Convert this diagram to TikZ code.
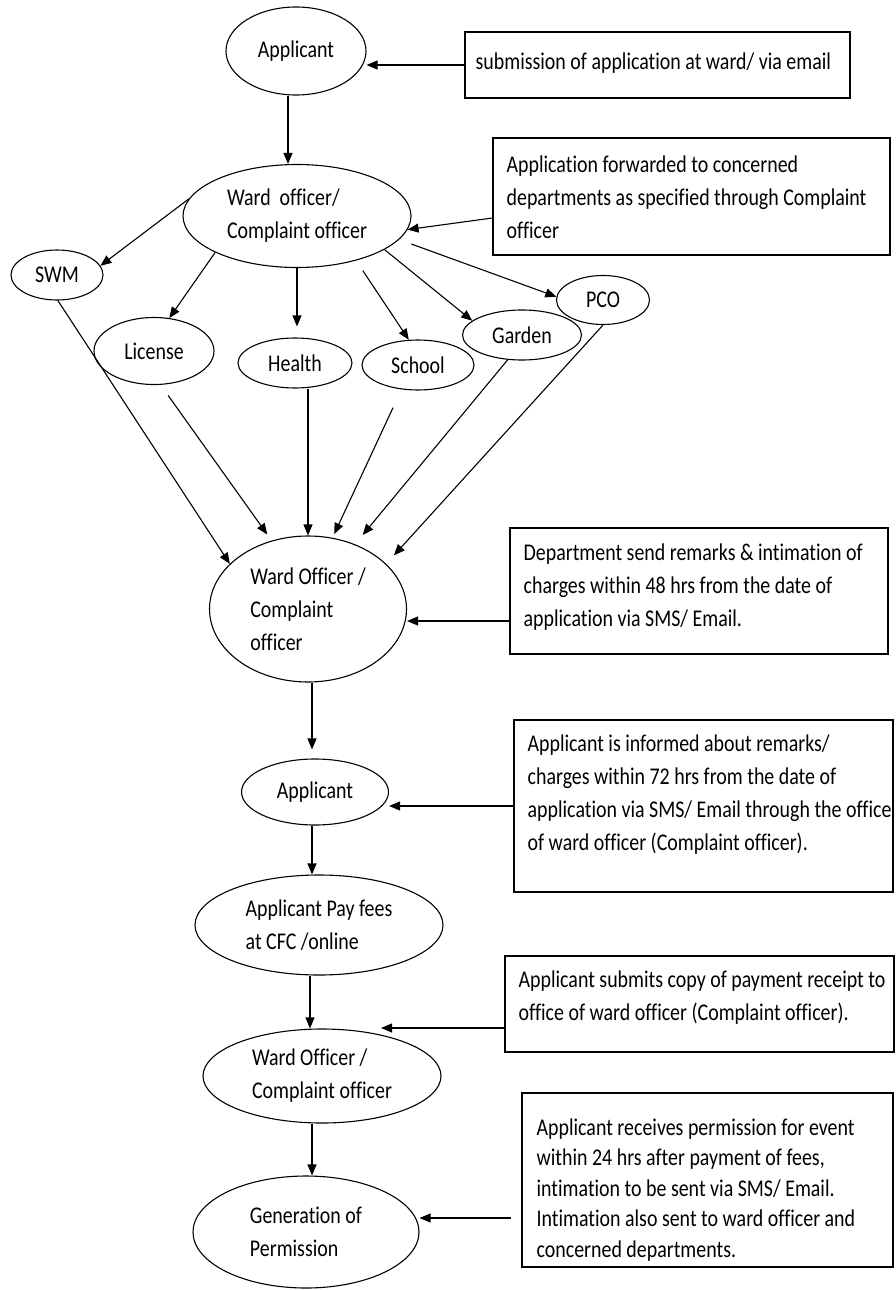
\documentclass[tikz,border=0pt]{standalone}
\usepackage{fontspec}
\setmainfont{Carlito}[FakeStretch=0.83, Ligatures={NoCommon}]
\usetikzlibrary{shapes.geometric,arrows.meta}
\begin{document}
\begin{tikzpicture}[x=1pt,y=-1pt,
  every node/.style={font=\fontsize{24}{33}\selectfont},
  ell/.style={draw, ellipse, line width=1.1pt, inner sep=0pt, align=left},
  box/.style={draw, rectangle, line width=1.1pt, inner sep=0pt},
  btext/.style={anchor=west, align=left, inner sep=0pt},
  arr/.style={line width=1.1pt, -{Triangle[length=11pt,width=9pt]}}]
\fill[white] (0,0) rectangle (896,1290);
\useasboundingbox (0,0) rectangle (896,1290);

% ellipses
\node[ell, minimum width=140pt, minimum height=88pt] (app1) at (296,51) {Applicant};
\node[ell, minimum width=228pt, minimum height=103pt] (ward1) at (297,216) {Ward\ \ officer/\\Complaint officer};
\node[ell, minimum width=92pt, minimum height=50pt] (swm) at (57,275) {SWM};
\node[ell, minimum width=120pt, minimum height=67pt] (lic) at (154,351) {License};
\node[ell, minimum width=114pt, minimum height=50pt] (hea) at (295,363) {Health};
\node[ell, minimum width=112pt, minimum height=50pt] (sch) at (418,365) {School};
\node[ell, minimum width=119pt, minimum height=50pt] (gar) at (522,335) {Garden};
\node[ell, minimum width=93pt, minimum height=49pt] (pco) at (603,300) {PCO};
\node[ell, minimum width=197pt, minimum height=146pt] (ward2) at (308,609) {Ward Officer /\\Complaint\\officer};
\node[ell, minimum width=147pt, minimum height=66pt] (app2) at (315,792) {Applicant};
\node[ell, minimum width=248pt, minimum height=100pt] (pay) at (319,925) {Applicant Pay fees\\at CFC /online};
\node[ell, minimum width=238pt, minimum height=94pt] (ward3) at (322,1076) {Ward Officer /\\Complaint officer};
\node[ell, minimum width=226pt, minimum height=112pt] (gen) at (306,1232) {Generation of\\Permission};

% boxes
\node[box, minimum width=385pt, minimum height=66pt] (b1) at (657.5,65) {};
\node[box, minimum width=397pt, minimum height=117pt] (b2) at (691.5,196.5) {};
\node[box, minimum width=378pt, minimum height=126pt] (b3) at (699,591) {};
\node[box, minimum width=379pt, minimum height=172pt] (b4) at (703.5,806) {};
\node[box, minimum width=389pt, minimum height=96pt] (b5) at (699.5,1004) {};
\node[box, minimum width=371pt, minimum height=174pt] (b6) at (707.5,1180) {};

\node[btext] (t1) at ([xshift=11pt,yshift=2pt]b1.west) {submission of application at ward/ via email};
\node[btext] (t2) at ([xshift=14pt,yshift=-1pt]b2.west) {Application forwarded to concerned\\departments as specified through Complaint\\officer};
\node[btext] (t3) at ([xshift=14pt,yshift=4pt]b3.west) {Department send remarks \& intimation of\\charges within 48 hrs from the date of\\application via SMS/ Email.};
\node[btext] (t4) at ([xshift=14pt,yshift=11pt]b4.west) {Applicant is informed about remarks/\\charges within 72 hrs from the date of\\application via SMS/ Email through the office\\of ward officer (Complaint officer).};
\node[btext] (t5) at ([xshift=14pt,yshift=6.5pt]b5.west) {Applicant submits copy of payment receipt to\\office of ward officer (Complaint officer).};
\node[btext, font=\fontsize{24}{30.5}\selectfont] (t6) at ([xshift=15pt,yshift=-10pt]b6.west) {Applicant receives permission for event\\within 24 hrs after payment of fees,\\intimation to be sent via SMS/ Email.\\Intimation also sent to ward officer and\\concerned departments.};

% connectors
\draw[arr] (b1.west) -- (b1.west -| app1.east);
\draw[arr] ([xshift=-8pt]app1.south) -- ([xshift=-8pt]app1.south |- ward1.north);
\draw[arr] ([yshift=-21.5pt]b2.west) -- (ward1.-7);

\draw[arr] (ward1.171) -- (swm.12);
\draw[arr] (ward1.204) -- (lic.65);
\draw[arr, shorten >=11pt] (ward1.south) -- (ward1.south |- hea.north);
\draw[arr, shorten <=12pt] (ward1.-37) -- (sch.110);
\draw[arr] (ward1.-21) -- (gar.164);
\draw[arr, shorten <=13pt] (ward1.-13) -- (pco.176);

\draw[arr] (swm.-88) -- (ward2.150);
\draw[arr, shorten <=13pt, shorten >=7.5pt] (lic.-79) -- (ward2.118);
\draw[arr] (hea.south -| ward2.north) -- (ward2.north);
\draw[arr, shorten <=20pt, shorten >=4pt] (sch.236) -- (ward2.71);
\draw[arr, shorten >=12pt] (gar.240) -- (ward2.54);
\draw[arr, shorten >=11.5pt] (pco.south) -- (ward2.30);

\draw[arr] ([yshift=-30pt]b3.west) -- ([yshift=-30pt]b3.west -| ward2.east);
\draw[arr, shorten >=9pt] ([xshift=4pt]ward2.south) -- ([xshift=4pt]ward2.south |- app2.north);
\draw[arr] (b4.west) -- (b4.west -| app2.east);
\draw[arr] ([xshift=-3pt]app2.south) -- ([xshift=-3pt]app2.south |- pay.north);
\draw[arr] ([xshift=-9pt]pay.south) -- ([xshift=-9pt]pay.south |- ward3.north);
\draw[arr] ([yshift=-24pt]b5.west) -- ([yshift=-24pt]b5.west -| ward3.35);
\draw[arr] ([xshift=-10pt]ward3.south) -- ([xshift=-10pt]ward3.south |- gen.north);
\draw[arr, shorten <=10pt] ([yshift=-38pt]b6.west) -- ([yshift=-38pt]b6.west -| gen.east);
\end{tikzpicture}
\end{document}
